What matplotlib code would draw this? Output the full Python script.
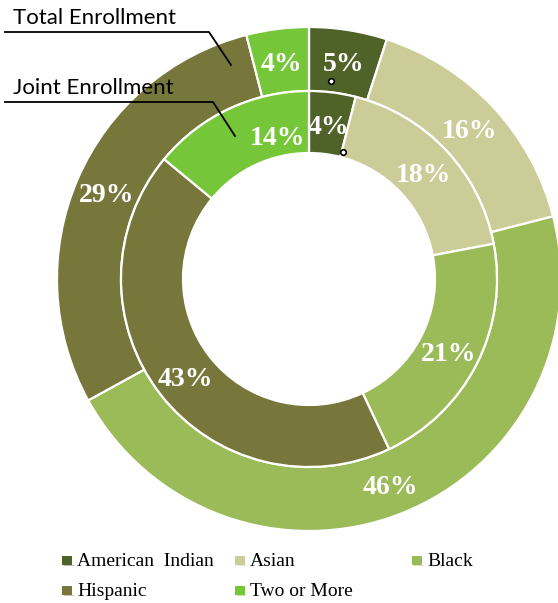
import numpy as np
import matplotlib
matplotlib.use("Agg")
import matplotlib.pyplot as plt
from matplotlib.patches import Rectangle

categories = ["American  Indian", "Asian", "Black", "Hispanic", "Two or More"]
total_pct = [5, 16, 46, 29, 4]
joint_pct = [4, 18, 21, 43, 14]
colors = ["#4f6228", "#cccc99", "#9bbb59", "#77763b", "#76c63a"]

W, H = 558, 603
fig = plt.figure(figsize=(W / 100, H / 100), dpi=100)

# donut centre (309, 279) px, outer radius 252 px
cx, cy, R = 309, 279, 252
ax = fig.add_axes([(cx - R) / W, (H - cy - R) / H, 2 * R / W, 2 * R / H])

r_out, r_mid, r_in = 1.0, 188 / 252, 126 / 252
wp = dict(edgecolor="white", linewidth=1.6)
lab = dict(color="white", fontsize=20, fontweight="bold", family="Liberation Serif")

outer, _ = ax.pie(total_pct, radius=r_out, colors=colors, startangle=90,
                  counterclock=False, wedgeprops=dict(width=r_out - r_mid, **wp))
inner, _ = ax.pie(joint_pct, radius=r_mid, colors=colors, startangle=90,
                  counterclock=False, wedgeprops=dict(width=r_mid - r_in, **wp))
ax.set_xlim(-1, 1)
ax.set_ylim(-1, 1)
ax.set_aspect("equal")
ax.axis("off")


def put_labels(vals, r, nudge=None):
    nudge = nudge or {}
    start = 90.0
    for i, v in enumerate(vals):
        mid = np.deg2rad(start - v * 3.6 / 2)
        dx, dy = nudge.get(i, (0, 0))
        ax.text(r * np.cos(mid) + dx, r * np.sin(mid) - 0.015 + dy, f"{v}%",
                ha="center", va="center", **lab)
        start -= v * 3.6


put_labels(total_pct, 0.875)
# the 14% label sits a bit right of its slice centre in the original
put_labels(joint_pct, (r_mid + r_in) / 2, nudge={4: (0.14, 0.01)})

# small callout dots
def px(x, y):
    return ((x - cx) / R, (cy - y) / R)

for (x, y) in [(331, 81), (343, 152)]:
    ax.plot(*px(x, y), marker="o", ms=4, mfc="white", mec="black", mew=1.2)

# series titles with leader lines (figure pixel coords)
def fpx(x, y):
    return (x / W, 1 - y / H)

for name, pts, ty in [("Total Enrollment", [(5, 32), (209, 32), (231, 65)], 18),
                      ("Joint Enrollment", [(5, 102), (213, 102), (235, 136)], 88)]:
    xs, ys = zip(*[fpx(*p) for p in pts])
    fig.add_artist(plt.Line2D(xs, ys, color="black", lw=1.3))
    fig.text(*fpx(13, ty), name, fontsize=16, family="Lato", ha="left", va="center")

# legend
col_x = [62, 235, 412]
row_y = [561, 591]
for i, (c, col) in enumerate(zip(categories, colors)):
    x, y = col_x[i % 3], row_y[i // 3]
    fig.add_artist(Rectangle(fpx(x, y + 4), 10 / W, 9 / H, facecolor=col,
                             edgecolor="none", transform=fig.transFigure))
    fig.add_artist(Rectangle(fpx(x + 2, y + 5), 10 / W, 1.5 / H, facecolor=col,
                             alpha=0.4, edgecolor="none", transform=fig.transFigure))
    fig.text(*fpx(x + 15, y), c, fontsize=14, family="Liberation Serif",
             ha="left", va="center")

fig.savefig("out.png", dpi=100)
